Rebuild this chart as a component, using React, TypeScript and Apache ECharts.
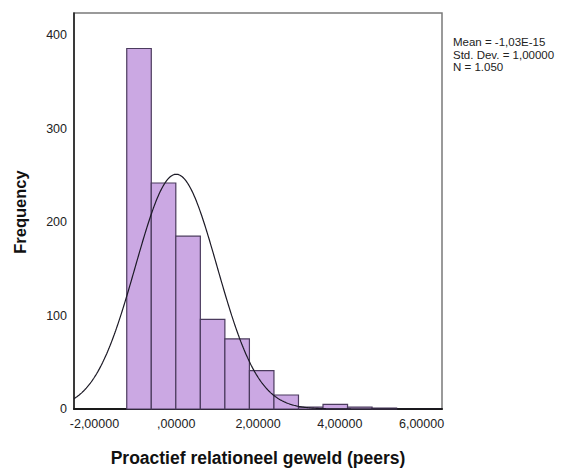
import React, { useEffect, useRef } from "react";
import * as echarts from "echarts";

// Histogram bins: [start, end] edges and counts
const binStarts = [-1.21, -0.61, -0.01, 0.59, 1.19, 1.79, 2.39, 2.99, 3.59, 4.19, 4.79];
const binWidth = 0.6;
const binCounts = [386, 242, 185, 96, 75, 41, 15, 2, 5, 2, 1];

// Summary statistics shown in the legend
const MEAN = 0;
const SD = 1;
const N = 1050;
const statLines = ["Mean = -1,03E-15", "Std. Dev. = 1,00000", "N = 1.050"];

const xMin = -2.5;
const xMax = 6.5;
const yMax = 424;
const yTicks = [0, 100, 200, 300, 400];
const xTicks = [-2, 0, 2, 4, 6];

const xTitle = "Proactief relationeel geweld (peers)";
const yTitle = "Frequency";

function normalCurve(): number[][] {
  const pts: number[][] = [];
  const steps = 450;
  for (let i = 0; i <= steps; i++) {
    const x = xMin + ((xMax - xMin) * i) / steps;
    const z = (x - MEAN) / SD;
    const y = (N * binWidth * Math.exp(-0.5 * z * z)) / (SD * Math.sqrt(2 * Math.PI));
    pts.push([x, y]);
  }
  return pts;
}

function fmtX(v: number): string {
  const r = Math.round(v);
  if (Math.abs(v - r) > 1e-9 || !xTicks.includes(r)) return "";
  if (r === 0) return ",00000";
  return r.toFixed(5).replace(".", ",");
}

export default function App() {
  const ref = useRef<HTMLDivElement>(null);
  useEffect(() => {
    if (!ref.current) return;
    const chart = echarts.init(ref.current, undefined, { renderer: "svg" });
    const histData = binStarts.map((s, i) => [s, s + binWidth, binCounts[i]]);
    const font = "'Liberation Sans', Arial, sans-serif";
    chart.setOption({
      animation: false,
      backgroundColor: "#ffffff",
      grid: {
        left: 74,
        right: 123,
        top: 13,
        bottom: 59,
        show: true,
        borderColor: "#7a7a7a",
        borderWidth: 1.5,
        backgroundColor: "transparent",
      },
      xAxis: {
        type: "value",
        min: xMin,
        max: xMax,
        splitNumber: 4,
        axisLine: { show: true, onZero: false, lineStyle: { color: "#1a1a1a", width: 2 } },
        axisTick: { show: false },
        splitLine: { show: false },
        axisLabel: {
          formatter: fmtX,
          color: "#222",
          fontSize: 12.5,
          fontFamily: font,
          margin: 8,
          showMinLabel: false,
          showMaxLabel: false,
        },
      },
      yAxis: {
        type: "value",
        min: 0,
        max: yMax,
        interval: 100,
        axisLine: { show: true, onZero: false, lineStyle: { color: "#1a1a1a", width: 1.5 } },
        axisTick: { show: false },
        splitLine: { show: false },
        axisLabel: {
          formatter: (v: number) => (yTicks.includes(v) ? String(v) : ""),
          color: "#222",
          fontSize: 12.5,
          fontFamily: font,
          margin: 7,
        },
      },
      series: [
        {
          type: "custom",
          data: histData,
          encode: { x: [0, 1], y: 2 },
          renderItem: (params: any, api: any) => {
            const p0 = api.coord([api.value(0), 0]);
            const p1 = api.coord([api.value(1), api.value(2)]);
            return {
              type: "rect",
              shape: { x: p0[0], y: p1[1], width: p1[0] - p0[0], height: p0[1] - p1[1] },
              style: { fill: "#cba8e3", stroke: "#4b3b5e", lineWidth: 1.2 },
            };
          },
          z: 2,
        },
        {
          type: "line",
          data: normalCurve(),
          showSymbol: false,
          symbol: "none",
          lineStyle: { color: "#1c1a26", width: 1.2 },
          z: 3,
        },
      ],
      graphic: [
        {
          type: "text",
          left: 453,
          top: 36,
          style: {
            text: statLines.join("\n"),
            fontSize: 11.5,
            lineHeight: 12.5,
            fontFamily: font,
            fill: "#222",
          },
        },
        {
          type: "text",
          x: 258,
          y: 458,
          style: {
            text: xTitle,
            fontSize: 17.5,
            fontWeight: "bold",
            fontFamily: font,
            fill: "#111",
            align: "center",
            verticalAlign: "middle",
          },
        },
        {
          type: "text",
          x: 20,
          y: 212,
          rotation: Math.PI / 2,
          style: {
            text: yTitle,
            fontSize: 16.5,
            fontWeight: "bold",
            fontFamily: font,
            fill: "#111",
            align: "center",
            verticalAlign: "middle",
          },
        },
      ],
    });
    return () => chart.dispose();
  }, []);
  return (
    <div
      ref={ref}
      style={{ position: "fixed", left: 0, top: 0, width: 565, height: 468, background: "#fff" }}
    />
  );
}
